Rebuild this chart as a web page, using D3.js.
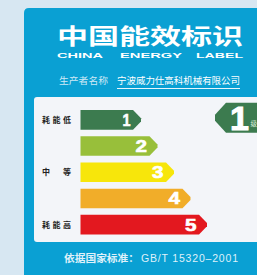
<!DOCTYPE html>
<html>
<head>
<meta charset="utf-8">
<script src="https://cdn.jsdelivr.net/npm/d3@7"></script>
<style>
  body { margin: 0; background: #d7e7f2; }
  svg { display: block; font-family: "Noto Sans CJK SC", "Noto Sans", sans-serif; }
</style>
</head>
<body>
<div id="chart"></div>
<script>
// energy grades, top (lowest consumption) to bottom
const grades = ["1", "2", "3", "4", "5"];
const gradeValues = [1, 2, 3, 4, 5];
const gradeColors = ["#3c7b4f", "#98bf3a", "#f7e60b", "#f1ad29", "#e3181f"];
const sideLabels = [["1", "耗能低"], ["3", "中  等"], ["5", "耗能高"]];
const rating = "1";
const titleText = "中国能效标识";
const subtitleWords = ["CHINA", "ENERGY", "LABEL"];
const makerLabel = "生产者名称";
const makerName = "宁波威力仕高科机械有限公司";
const standardLabel = "依据国家标准：";
const standardCode = "GB/T 15320–2001";

const width = 257, height = 275;
const numFont = "'Liberation Sans', Arial, sans-serif";

const svg = d3.select("#chart").append("svg")
    .attr("width", width)
    .attr("height", height);

// blue outer panel
svg.append("path")
    .attr("d", "M24,13 Q24,8 29,8 L260,8 L260,280 L24,280 Z")
    .attr("fill", "#0aa0d3");

// title
svg.append("text")
    .attr("x", 57).attr("y", 44)
    .attr("textLength", 186).attr("lengthAdjust", "spacingAndGlyphs")
    .attr("font-size", 22).attr("font-weight", 700)
    .attr("fill", "#fff")
    .text(titleText);

const wordX = [57, 120, 196], wordW = [46, 62, 47];
svg.selectAll("text.sub")
  .data(subtitleWords)
  .enter().append("text")
    .attr("class", "sub")
    .attr("x", (d, i) => wordX[i]).attr("y", 57.5)
    .attr("textLength", (d, i) => wordW[i]).attr("lengthAdjust", "spacingAndGlyphs")
    .style("font-family", numFont)
    .attr("font-size", 7.5).attr("font-weight", 700)
    .attr("fill", "#fff")
    .text(d => d);

// maker line
svg.append("text")
    .attr("x", 59).attr("y", 83.5)
    .attr("textLength", 49).attr("lengthAdjust", "spacingAndGlyphs")
    .attr("font-size", 9).attr("fill", "#cfe9f6")
    .text(makerLabel);
svg.append("text")
    .attr("x", 117).attr("y", 83.5)
    .attr("textLength", 123).attr("lengthAdjust", "spacingAndGlyphs")
    .attr("font-size", 9.5).attr("fill", "#fff")
    .text(makerName);
svg.append("line")
    .attr("x1", 117).attr("x2", 240)
    .attr("y1", 88.5).attr("y2", 88.5)
    .attr("stroke", "#e8f5fb").attr("stroke-width", 1);

// inner white panel
svg.append("rect")
    .attr("x", 34).attr("y", 97)
    .attr("width", 240).attr("height", 145)
    .attr("rx", 3)
    .attr("fill", "#f3f5f9");

// scales
const y = d3.scaleBand()
    .domain(grades)
    .range([110, 234.5])
    .paddingInner(0.25)
    .paddingOuter(0);

const x = d3.scaleLinear()
    .domain([1, 5])
    .range([141, 207]);

const x0 = 80.5;
const bh = y.bandwidth();

function arrowPath(tip, top) {
  const h = bh;
  return `M${x0},${top} L${tip - 8},${top} L${tip},${top + h * 0.42} ` +
         `L${tip},${top + h * 0.58} L${tip - 8},${top + h} L${x0},${top + h} Z`;
}

const bars = svg.append("g").attr("class", "bars");
bars.selectAll("path")
  .data(grades)
  .enter().append("path")
    .attr("d", (d, i) => arrowPath(x(gradeValues[i]), y(d)))
    .attr("fill", (d, i) => gradeColors[i]);

// wide heavy digits
bars.selectAll("text")
  .data(grades)
  .enter().append("text")
    .attr("x", (d, i) => x(gradeValues[i]) - 10.5 - (d === "1" ? 8 : 11.5))
    .attr("y", d => y(d) + bh / 2 + 6)
    .attr("textLength", d => d === "1" ? 8 : 11.5)
    .attr("lengthAdjust", "spacingAndGlyphs")
    .style("font-family", numFont)
    .attr("font-size", 16.5).attr("font-weight", 700)
    .attr("fill", "#fff")
    .attr("stroke", "#fff").attr("stroke-width", 0.6)
    .text(d => d);

// side labels
svg.selectAll("text.side")
  .data(sideLabels)
  .enter().append("text")
    .attr("class", "side")
    .attr("x", 42)
    .attr("y", d => y(d[0]) + bh / 2 + 3)
    .attr("textLength", 29).attr("lengthAdjust", "spacing")
    .attr("xml:space", "preserve")
    .attr("font-size", 8).attr("font-weight", 700)
    .attr("fill", "#222")
    .text(d => d[1]);

// rating indicator
const cy = y(rating) + bh / 2 - 2;
svg.append("path")
    .attr("d", `M226,${cy - 15} L262,${cy - 15} L262,${cy + 15} L226,${cy + 15} L215,${cy + 3} L215,${cy - 3} Z`)
    .attr("fill", "#3c7b4f");
svg.append("text")
    .attr("x", 239.5).attr("y", cy + 12.5)
    .attr("text-anchor", "middle")
    .style("font-family", numFont)
    .attr("font-size", 34).attr("font-weight", 700)
    .attr("fill", "#fff")
    .attr("stroke", "#fff").attr("stroke-width", 1)
    .text(rating);
svg.append("text")
    .attr("x", 250.5).attr("y", cy + 8)
    .attr("font-size", 6.5)
    .attr("fill", "#d8ecd8")
    .text("级");

// standard line
svg.append("text")
    .attr("x", 64).attr("y", 261.5)
    .attr("textLength", 75).attr("lengthAdjust", "spacingAndGlyphs")
    .attr("font-size", 10).attr("font-weight", 700)
    .attr("fill", "#dff1fa")
    .text(standardLabel);
svg.append("text")
    .attr("x", 141).attr("y", 261.5)
    .attr("textLength", 97).attr("lengthAdjust", "spacing")
    .attr("xml:space", "preserve")
    .style("font-family", numFont)
    .attr("font-size", 10.5)
    .attr("fill", "#dff1fa")
    .text(standardCode);
</script>
</body>
</html>
